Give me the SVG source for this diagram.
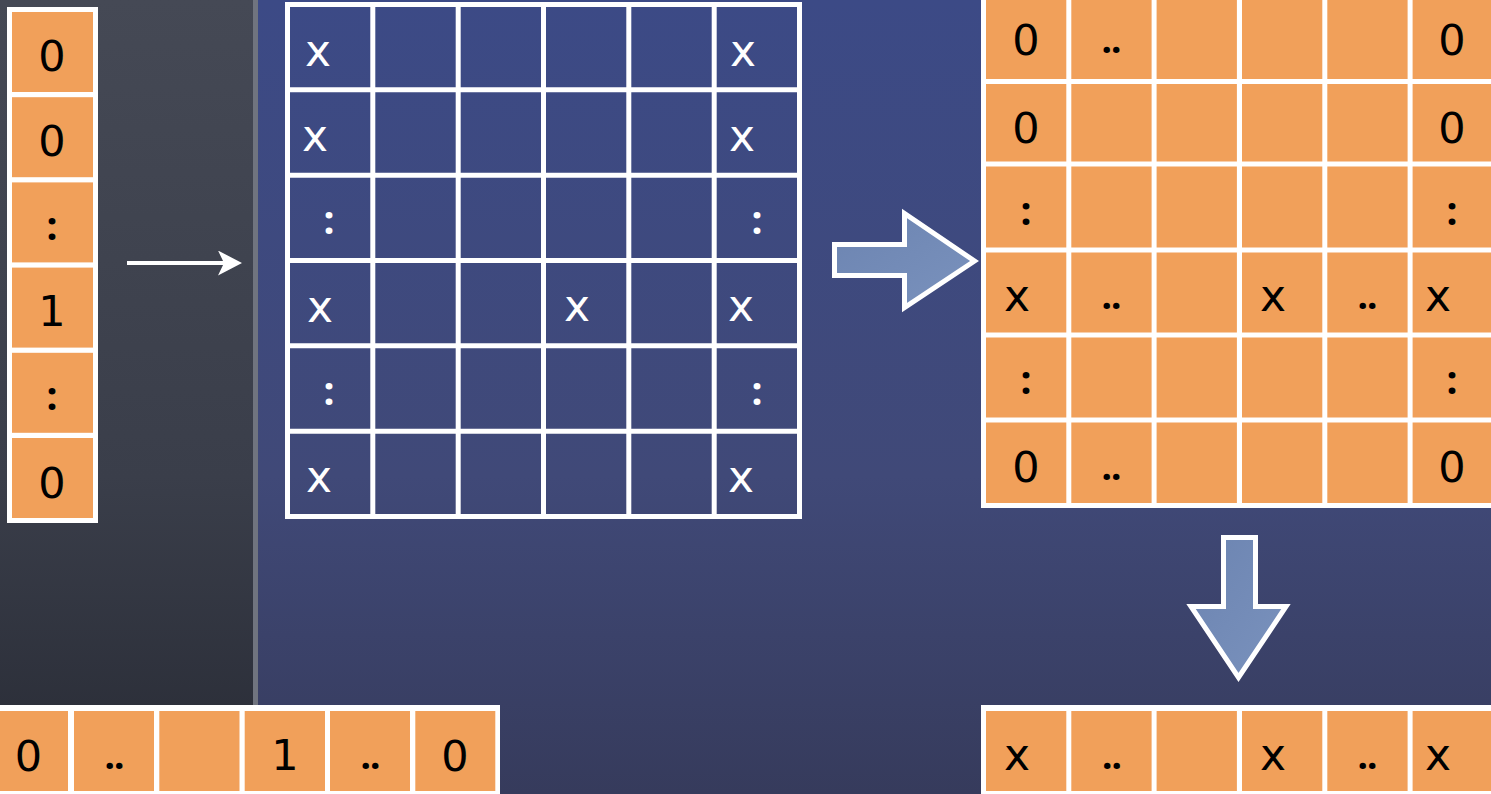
<svg xmlns="http://www.w3.org/2000/svg" width="1491" height="794" viewBox="0 0 1491 794">
<defs>
<linearGradient id="bgL" x1="0" y1="0" x2="0" y2="1">
<stop offset="0" stop-color="#454955"/>
<stop offset="0.6" stop-color="#3a3e4a"/>
<stop offset="1" stop-color="#282b35"/>
</linearGradient>
<linearGradient id="bgR" x1="0" y1="0" x2="0" y2="1">
<stop offset="0" stop-color="#3c4a86"/>
<stop offset="0.6" stop-color="#404978"/>
<stop offset="1" stop-color="#363b5c"/>
</linearGradient>
<linearGradient id="arrowFill" x1="0" y1="0" x2="1" y2="1">
<stop offset="0" stop-color="#6c84b1"/>
<stop offset="1" stop-color="#7a92bd"/>
</linearGradient>
<marker id="head" viewBox="0 0 24 25" refX="6" refY="12.5" markerWidth="24" markerHeight="25" markerUnits="userSpaceOnUse" orient="auto">
<path d="M0,0 L24,12.5 L0,25 L6,12.5 Z" fill="#ffffff"/>
</marker>
<style>
text{font-family:"DejaVu Sans","Noto Sans",sans-serif;text-anchor:middle}
.k{fill:#000000}
.w{fill:#ffffff}
.d{font-size:43px}
.x{font-size:44px}
.c{font-family:"Noto Sans","DejaVu Sans",sans-serif;font-size:39px;font-weight:bold}
.dd{font-family:"Noto Sans","DejaVu Sans",sans-serif;font-size:37px;font-weight:bold;letter-spacing:-1px}
.or{fill:#f1a05a}
.wb{fill:#ffffff}
.bc{fill:none;stroke:#ffffff;stroke-width:5}
.blk{fill:url(#arrowFill);stroke:#ffffff;stroke-width:5;stroke-linejoin:miter}
</style>
</defs>

<g id="background">
<rect x="0" y="0" width="256" height="794" fill="url(#bgL)"/>
<rect x="256" y="0" width="1235" height="794" fill="url(#bgR)"/>
<rect x="253" y="0" width="5" height="706" fill="#70747f"/>
</g>

<g id="vector-left">
<rect class="wb" x="7" y="7" width="91" height="516"/>
<rect class="or" x="12" y="12" width="81" height="80"/>
<rect class="or" x="12" y="97.2" width="81" height="80"/>
<rect class="or" x="12" y="182.4" width="81" height="80"/>
<rect class="or" x="12" y="267.6" width="81" height="80"/>
<rect class="or" x="12" y="352.8" width="81" height="80"/>
<rect class="or" x="12" y="438" width="81" height="80"/>
<text class="k d" x="52" y="71">0</text>
<text class="k d" x="52" y="156">0</text>
<text class="k c" x="52" y="240">:</text>
<text class="k d" x="52" y="326">1</text>
<text class="k c" x="52" y="410">:</text>
<text class="k d" x="52" y="498">0</text>
</g>

<g id="matrix-blue">
<g class="bc">
<rect x="287.5" y="4.5" width="512" height="512"/>
<line x1="372.8" y1="4.5" x2="372.8" y2="516.5"/>
<line x1="458.2" y1="4.5" x2="458.2" y2="516.5"/>
<line x1="543.5" y1="4.5" x2="543.5" y2="516.5"/>
<line x1="628.8" y1="4.5" x2="628.8" y2="516.5"/>
<line x1="714.2" y1="4.5" x2="714.2" y2="516.5"/>
<line x1="287.5" y1="89.8" x2="799.5" y2="89.8"/>
<line x1="287.5" y1="175.2" x2="799.5" y2="175.2"/>
<line x1="287.5" y1="260.5" x2="799.5" y2="260.5"/>
<line x1="287.5" y1="345.8" x2="799.5" y2="345.8"/>
<line x1="287.5" y1="431.2" x2="799.5" y2="431.2"/>
</g>
<text class="w x" x="318" y="66">x</text>
<text class="w x" x="743" y="66">x</text>
<text class="w x" x="315" y="151">x</text>
<text class="w x" x="742" y="151">x</text>
<text class="w c" x="329" y="234">:</text>
<text class="w c" x="757" y="234">:</text>
<text class="w x" x="320" y="322">x</text>
<text class="w x" x="577" y="321">x</text>
<text class="w x" x="741" y="321">x</text>
<text class="w c" x="329" y="405">:</text>
<text class="w c" x="757" y="405">:</text>
<text class="w x" x="319" y="492">x</text>
<text class="w x" x="741" y="492">x</text>
</g>

<g id="matrix-orange">
<rect class="wb" x="981" y="-10" width="520" height="518"/>
<g class="or">
<rect x="986" y="-5" width="80.3" height="84"/>
<rect x="1071.3" y="-5" width="80.3" height="84"/>
<rect x="1156.6" y="-5" width="80.3" height="84"/>
<rect x="1242" y="-5" width="80.3" height="84"/>
<rect x="1327.3" y="-5" width="80.3" height="84"/>
<rect x="1412.6" y="-5" width="85" height="84"/>
<rect x="986" y="84" width="80.3" height="77.5"/>
<rect x="1071.3" y="84" width="80.3" height="77.5"/>
<rect x="1156.6" y="84" width="80.3" height="77.5"/>
<rect x="1242" y="84" width="80.3" height="77.5"/>
<rect x="1327.3" y="84" width="80.3" height="77.5"/>
<rect x="1412.6" y="84" width="85" height="77.5"/>
<rect x="986" y="166.5" width="80.3" height="81"/>
<rect x="1071.3" y="166.5" width="80.3" height="81"/>
<rect x="1156.6" y="166.5" width="80.3" height="81"/>
<rect x="1242" y="166.5" width="80.3" height="81"/>
<rect x="1327.3" y="166.5" width="80.3" height="81"/>
<rect x="1412.6" y="166.5" width="85" height="81"/>
<rect x="986" y="252.5" width="80.3" height="80"/>
<rect x="1071.3" y="252.5" width="80.3" height="80"/>
<rect x="1156.6" y="252.5" width="80.3" height="80"/>
<rect x="1242" y="252.5" width="80.3" height="80"/>
<rect x="1327.3" y="252.5" width="80.3" height="80"/>
<rect x="1412.6" y="252.5" width="85" height="80"/>
<rect x="986" y="337.5" width="80.3" height="80"/>
<rect x="1071.3" y="337.5" width="80.3" height="80"/>
<rect x="1156.6" y="337.5" width="80.3" height="80"/>
<rect x="1242" y="337.5" width="80.3" height="80"/>
<rect x="1327.3" y="337.5" width="80.3" height="80"/>
<rect x="1412.6" y="337.5" width="85" height="80"/>
<rect x="986" y="422.5" width="80.3" height="80.5"/>
<rect x="1071.3" y="422.5" width="80.3" height="80.5"/>
<rect x="1156.6" y="422.5" width="80.3" height="80.5"/>
<rect x="1242" y="422.5" width="80.3" height="80.5"/>
<rect x="1327.3" y="422.5" width="80.3" height="80.5"/>
<rect x="1412.6" y="422.5" width="85" height="80.5"/>
</g>
<text class="k d" x="1026" y="55">0</text>
<text class="k dd" x="1111" y="53">..</text>
<text class="k d" x="1452" y="55">0</text>
<text class="k d" x="1026" y="143">0</text>
<text class="k d" x="1452" y="143">0</text>
<text class="k c" x="1026" y="224.5">:</text>
<text class="k c" x="1452" y="224.5">:</text>
<text class="k x" x="1017" y="311">x</text>
<text class="k dd" x="1111" y="309">..</text>
<text class="k x" x="1273" y="311">x</text>
<text class="k dd" x="1367" y="309">..</text>
<text class="k x" x="1438" y="311">x</text>
<text class="k c" x="1026" y="394">:</text>
<text class="k c" x="1452" y="394">:</text>
<text class="k d" x="1026" y="481.5">0</text>
<text class="k dd" x="1111" y="480">..</text>
<text class="k d" x="1452" y="481.5">0</text>
</g>

<g id="vector-bottom-left">
<rect class="wb" x="-20" y="705" width="520" height="100"/>
<g class="or">
<rect x="-13" y="711" width="81" height="80"/>
<rect x="74" y="711" width="80" height="80"/>
<rect x="159.3" y="711" width="80.2" height="80"/>
<rect x="244.7" y="711" width="80.3" height="80"/>
<rect x="330" y="711" width="80" height="80"/>
<rect x="415.3" y="711" width="80" height="80"/>
</g>
<text class="k d" x="28.5" y="770.5">0</text>
<text class="k dd" x="114" y="768.5">..</text>
<text class="k d" x="285" y="770">1</text>
<text class="k dd" x="370" y="768.5">..</text>
<text class="k d" x="455" y="770.5">0</text>
</g>

<g id="vector-bottom-right">
<rect class="wb" x="981" y="705" width="520" height="100"/>
<g class="or">
<rect x="986" y="711" width="80.3" height="80"/>
<rect x="1071.3" y="711" width="80.3" height="80"/>
<rect x="1156.6" y="711" width="80.3" height="80"/>
<rect x="1242" y="711" width="80.3" height="80"/>
<rect x="1327.3" y="711" width="80.3" height="80"/>
<rect x="1412.6" y="711" width="85" height="80"/>
</g>
<text class="k x" x="1017" y="770">x</text>
<text class="k dd" x="1111.5" y="768.5">..</text>
<text class="k x" x="1273" y="770">x</text>
<text class="k dd" x="1367" y="768.5">..</text>
<text class="k x" x="1438" y="770">x</text>
</g>

<g id="connectors">
<line x1="127" y1="263" x2="224" y2="263" stroke="#ffffff" stroke-width="4" marker-end="url(#head)"/>
<path class="blk" d="M834.5,244.5 H904.5 V213.5 L974.5,261 L904.5,307.5 V275.5 H834.5 Z"/>
<path class="blk" d="M1223.5,537.5 H1255.5 V606.5 H1286 L1238.5,677.5 L1191,606.5 H1223.5 Z"/>
</g>
</svg>
